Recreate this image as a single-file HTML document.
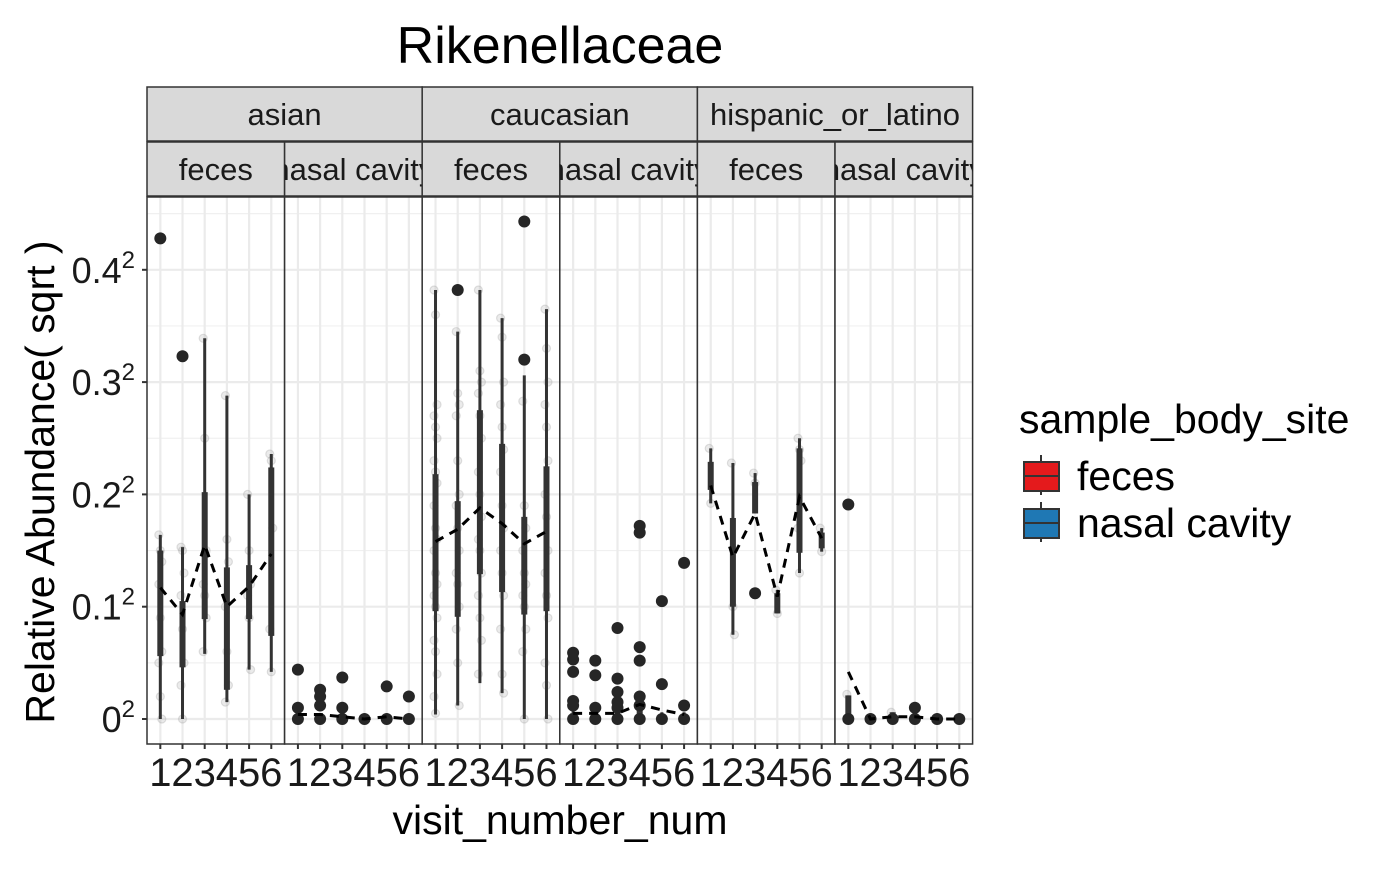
<!DOCTYPE html>
<html><head><meta charset="utf-8"><style>
html,body{margin:0;padding:0;background:#fff;}
svg text{font-family:"Liberation Sans",Arial,sans-serif;}
</style></head><body>
<svg id="chart" width="1400" height="866" viewBox="0 0 1400 866" xmlns="http://www.w3.org/2000/svg">
<rect width="1400" height="866" fill="#fff"/>
<text x="560" y="63" font-size="52" text-anchor="middle">Rikenellaceae</text>
<g id="panels"></g>
<text x="560" y="834" font-size="41" text-anchor="middle">visit_number_num</text>
<text transform="translate(54,482) rotate(-90)" font-size="41" text-anchor="middle">Relative Abundance( sqrt )</text>
<g>
<text x="1019" y="433" font-size="41">sample_body_site</text>
<g>
<line x1="1041" y1="455" x2="1041" y2="495" stroke="#333" stroke-width="2"/>
<rect x="1024" y="462" width="35" height="29" fill="#e41a1c" stroke="#333" stroke-width="2"/>
<line x1="1024" y1="476" x2="1059" y2="476" stroke="#333" stroke-width="2"/>
<text x="1077" y="490" font-size="41">feces</text></g>
<g>
<line x1="1041" y1="502" x2="1041" y2="542" stroke="#333" stroke-width="2"/>
<rect x="1024" y="509" width="35" height="29" fill="#1f78b4" stroke="#333" stroke-width="2"/>
<line x1="1024" y1="523" x2="1059" y2="523" stroke="#333" stroke-width="2"/>
<text x="1077" y="537" font-size="41">nasal cavity</text></g>
</g>
</svg>
<script>
const groups=["asian","caucasian","hispanic_or_latino"];
const sites=["feces","nasal cavity"];
const visits=[1,2,3,4,5,6];
const yTicks=[0,0.1,0.2,0.3,0.4];
const yTickLabels=["0","0.1","0.2","0.3","0.4"];
const wMin=[
[0,0,0.058,0.015,0.044,0.042],[0,0,0,0,0,0],
[0.004,0.012,0.032,0.023,0,0],[0,0,0,0,0,0],
[0.192,0.075,0.183,0.094,0.130,0.149],[0,0,0,0,0,0]];
const q1=[
[0.056,0.046,0.089,0.026,0.089,0.074],[0,0,0,0,0,0],
[0.096,0.091,0.129,0.113,0.093,0.096],[0,0,0,0,0,0],
[0.204,0.100,0.183,0.094,0.148,0.152],[0,0,0,0,0,0]];
const q3=[
[0.150,0.105,0.202,0.135,0.137,0.224],[0,0,0,0,0,0],
[0.218,0.194,0.275,0.245,0.180,0.225],[0.005,0.005,0.006,0.008,0.004,0.004],
[0.229,0.179,0.211,0.112,0.241,0.166],[0.021,0,0.006,0,0,0]];
const wMax=[
[0.164,0.153,0.339,0.288,0.200,0.236],[0,0,0,0,0,0],
[0.382,0.345,0.382,0.357,0.306,0.365],[0.008,0.008,0.008,0.010,0.006,0.006],
[0.241,0.228,0.219,0.115,0.250,0.170],[0.021,0,0.006,0,0,0]];
const means=[
[0.117,0.093,0.155,0.100,0.118,0.147],[0.004,0.004,0.002,0,0.002,0],
[0.158,0.169,0.188,0.174,0.156,0.167],[0.005,0.005,0.005,0.013,0.008,0.004],
[0.208,0.144,0.183,0.109,0.198,0.161],[0.042,0,0.002,0.002,0,0]];
const outliers=[
[[0.428],[0.323],[],[],[],[]],
[[0.044,0.010,0],[0.026,0.020,0.012,0],[0.037,0.010,0],[0],[0.029,0],[0.020,0]],
[[],[0.382],[],[],[0.443,0.320],[]],
[[0.059,0.053,0.042,0.016,0.012,0],[0.052,0.039,0.010,0],[0.081,0.036,0.024,0.015,0.010,0],[0.172,0.166,0.064,0.052,0.020,0.012,0],[0.105,0.031,0],[0.139,0.012,0]],
[[],[],[0.112],[],[],[]],
[[0.191,0],[0],[0],[0.010,0],[0],[0]]];
const jitter=[
[[0.164,0.15,0.14,0.12,0.09,0.06,0.05,0.02,0],[0.153,0.15,0.13,0.11,0.08,0.05,0.03,0],[0.339,0.25,0.15,0.12,0.11,0.09,0.06],[0.288,0.16,0.14,0.10,0.06,0.03,0.015],[0.200,0.15,0.12,0.11,0.09,0.044],[0.236,0.23,0.17,0.08,0.042]],
[[],[],[],[],[],[]],
[[0.382,0.36,0.28,0.27,0.26,0.25,0.23,0.22,0.21,0.19,0.17,0.16,0.15,0.13,0.12,0.11,0.10,0.09,0.07,0.06,0.04,0.02,0.005],[0.345,0.29,0.28,0.27,0.23,0.20,0.19,0.17,0.15,0.13,0.12,0.10,0.08,0.05,0.012],[0.382,0.31,0.30,0.29,0.27,0.25,0.22,0.20,0.18,0.16,0.15,0.13,0.11,0.09,0.07,0.04],[0.357,0.34,0.30,0.28,0.26,0.24,0.22,0.19,0.17,0.15,0.13,0.11,0.08,0.04,0.023],[0.283,0.19,0.17,0.15,0.13,0.12,0.11,0.10,0.08,0.06,0],[0.365,0.33,0.30,0.28,0.26,0.23,0.20,0.18,0.15,0.13,0.11,0.09,0.05,0.03,0]],
[[],[],[],[],[],[]],
[[0.241,0.192],[0.228,0.10,0.075],[0.219,0.21],[0.115,0.094],[0.250,0.24,0.23,0.17,0.130],[0.170,0.149]],
[[0.022],[],[0.006],[],[],[]]];

const svg=document.getElementById('chart');
const root=document.getElementById('panels');
const NS="http://www.w3.org/2000/svg";
const PT=197,PB=744,PL=147,PW=137.6;
function yScale(s){return 719-s*1123;}
function xScale(p,v){return PL+p*PW+(v-0.4)/6.2*PW;}
function mk(tag,attrs,parent){const e=document.createElementNS(NS,tag);for(const k in attrs)e.setAttribute(k,attrs[k]);(parent||root).appendChild(e);return e;}

yTicks.forEach((t,i)=>{
  const y=yScale(t);
  const tk=mk('line',{x1:142,x2:147,y1:y,y2:y,stroke:'#333','stroke-width':2});
  
  
  const tx=mk('text',{x:135,y:y+13,'font-size':36,'text-anchor':'end',fill:'#1a1a1a'});
  
  
  tx.textContent=yTickLabels[i];
  const sp=mk('tspan',{dy:-15,'font-size':24},tx);sp.textContent='2';
});

groups.forEach((g,gi)=>{
  const x0=PL+gi*2*PW;
  const r=mk('rect',{x:x0,y:87,width:2*PW,height:54,fill:'#d9d9d9',stroke:'#333','stroke-width':1.5});
  
  
  const t=mk('text',{x:x0+PW,y:125,'font-size':31,'text-anchor':'middle',fill:'#1a1a1a'});
  
  
  t.textContent=g;
});
const defs=mk('defs',{});
for(let p=0;p<6;p++){
  const site=sites[p%2];
  const x0=PL+p*PW;
  const cp=mk('clipPath',{id:'cp'+p},defs);mk('rect',{x:x0,y:142,width:PW,height:54},cp);
  const r=mk('rect',{x:x0,y:142,width:PW,height:54,fill:'#d9d9d9',stroke:'#333','stroke-width':1.5});
  
  
  const t=mk('text',{x:x0+PW/2,y:180,'font-size':31,'text-anchor':'middle',fill:'#1a1a1a','clip-path':'url(#cp'+p+')'});
  
  
  t.textContent=site;

  const pg=mk('g',{});
  
  
  mk('rect',{x:x0,y:PT,width:PW,height:PB-PT,fill:'#fff'},pg);
  for(let i=0;i<yTicks.length;i++){
    const ym=yScale(yTicks[i]+0.05);
    if(ym>PT) mk('line',{x1:x0,x2:x0+PW,y1:ym,y2:ym,stroke:'#f0f0f0','stroke-width':1.2},pg);
  }
  yTicks.forEach(t=>{const y=yScale(t);mk('line',{x1:x0,x2:x0+PW,y1:y,y2:y,stroke:'#ebebeb','stroke-width':2.2},pg);});
  visits.forEach(v=>{const x=xScale(p,v);mk('line',{x1:x,x2:x,y1:PT,y2:PB,stroke:'#ebebeb','stroke-width':2.2},pg);});
  visits.forEach((v,vi)=>{
    jitter[p][vi].forEach((s,k)=>{
      const c=mk('circle',{cx:xScale(p,v)+((k%3)-1)*1.5,cy:yScale(s),r:4,fill:'#999','fill-opacity':0.2,stroke:'#aaa','stroke-opacity':0.35,'stroke-width':1.2},pg);
      
      
    });
  });
  visits.forEach((v,vi)=>{
    const x=xScale(p,v);
    const w=mk('line',{x1:x,x2:x,y1:yScale(wMin[p][vi]),y2:yScale(wMax[p][vi]),stroke:'#333','stroke-width':3},pg);
    
    
    const b=mk('rect',{x:x-3,y:yScale(q3[p][vi]),width:6,height:Math.max(1,yScale(q1[p][vi])-yScale(q3[p][vi])),fill:'#333'},pg);
    
    
    outliers[p][vi].forEach(s=>{
      const o=mk('circle',{cx:x,cy:yScale(s),r:6,fill:'#262626'},pg);
      
      
    });
  });
  const pts=visits.map((v,vi)=>xScale(p,v)+','+yScale(means[p][vi])).join(' ');
  const ml=mk('polyline',{points:pts,fill:'none',stroke:'#000','stroke-width':3,'stroke-dasharray':'9,7'},pg);
  
  
  mk('rect',{x:x0,y:PT,width:PW,height:PB-PT,fill:'none',stroke:'#333','stroke-width':1.5},pg);
  visits.forEach(v=>{
    const x=xScale(p,v);
    mk('line',{x1:x,x2:x,y1:PB,y2:PB+5,stroke:'#333','stroke-width':2});
    const t=mk('text',{x:x,y:786,'font-size':40,'text-anchor':'middle',fill:'#1a1a1a'});
    
    
    t.textContent=v;
  });
}
</script>
</body></html>
